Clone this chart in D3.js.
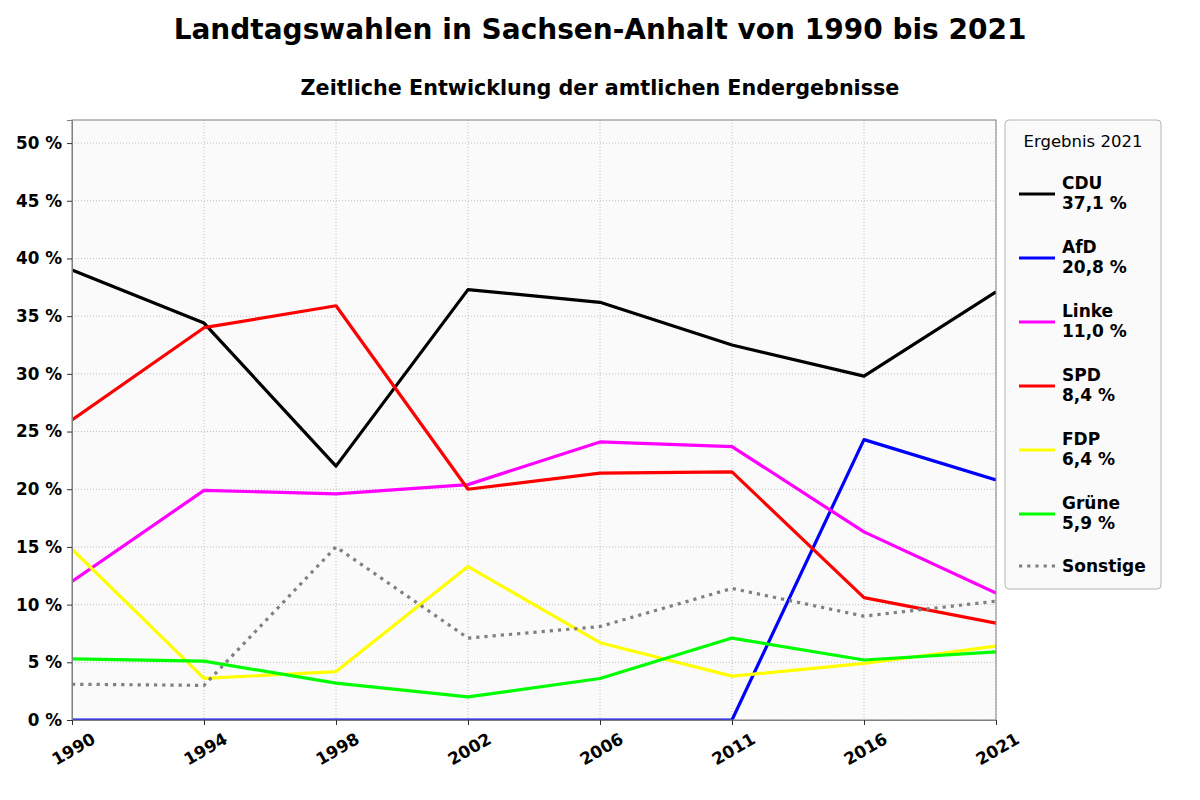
<!DOCTYPE html>
<html>
<head>
<meta charset="utf-8">
<script src="https://cdn.jsdelivr.net/npm/d3@7"></script>
<style>
  body { margin: 0; background: #fff; font-family: "DejaVu Sans", sans-serif; }
  svg text { font-family: "DejaVu Sans", sans-serif; }
</style>
</head>
<body>
<div id="chart"></div>
<script>
// ---------- Data ----------
const years = ["1990", "1994", "1998", "2002", "2006", "2011", "2016", "2021"];
const parties = ["CDU", "AfD", "Linke", "SPD", "FDP", "Grüne", "Sonstige"];
const cdu      = [39.0, 34.4, 22.0, 37.3, 36.2, 32.5, 29.8, 37.1];
const afd      = [0, 0, 0, 0, 0, 0, 24.3, 20.8];
const linke    = [12.0, 19.9, 19.6, 20.4, 24.1, 23.7, 16.3, 11.0];
const spd      = [26.0, 34.0, 35.9, 20.0, 21.4, 21.5, 10.6, 8.4];
const fdp      = [14.8, 3.6, 4.2, 13.3, 6.7, 3.8, 4.9, 6.4];
const gruene   = [5.3, 5.1, 3.2, 2.0, 3.6, 7.1, 5.2, 5.9];
const sonstige = [3.1, 3.0, 15.0, 7.1, 8.1, 11.4, 9.0, 10.3];
const yTicks = [0, 5, 10, 15, 20, 25, 30, 35, 40, 45, 50];

const seriesValues = [cdu, afd, linke, spd, fdp, gruene, sonstige];
const colors = ["#000000", "#0000ff", "#ff00ff", "#ff0000", "#ffff00", "#00ff00", "#808080"];

// ---------- Dimensions ----------
const W = 1200, H = 800;
const margin = { top: 120, left: 72, right: 204, bottom: 80 };
const width = W - margin.left - margin.right;
const height = H - margin.top - margin.bottom;

const svg = d3.select("#chart").append("svg")
    .attr("width", W).attr("height", H);

// ---------- Titles ----------
svg.append("text")
    .attr("x", 600).attr("y", 39)
    .attr("text-anchor", "middle")
    .style("font-size", "28px").style("font-weight", "bold")
    .text("Landtagswahlen in Sachsen-Anhalt von 1990 bis 2021");

svg.append("text")
    .attr("x", 600).attr("y", 95)
    .attr("text-anchor", "middle")
    .style("font-size", "20.7px").style("font-weight", "bold")
    .text("Zeitliche Entwicklung der amtlichen Endergebnisse");

const g = svg.append("g").attr("transform", `translate(${margin.left},${margin.top})`);

// ---------- Scales ----------
const x = d3.scalePoint().domain(years).range([0, width]);
const y = d3.scaleLinear().domain([0, 52]).range([height, 0]);

// background
g.append("rect").attr("width", width).attr("height", height).attr("fill", "#fafafa");

// ---------- Grid ----------
g.append("g").selectAll("line").data(yTicks).join("line")
    .attr("x1", 0).attr("x2", width)
    .attr("y1", d => y(d)).attr("y2", d => y(d))
    .attr("stroke", "#b0b0b0").attr("stroke-width", 0.8).attr("stroke-dasharray", "1,2");
g.append("g").selectAll("line").data(years).join("line")
    .attr("x1", d => x(d)).attr("x2", d => x(d))
    .attr("y1", 0).attr("y2", height)
    .attr("stroke", "#b0b0b0").attr("stroke-width", 0.8).attr("stroke-dasharray", "1,2");

// ---------- Lines ----------
svg.append("defs").append("clipPath").attr("id", "clip")
    .append("rect").attr("width", width).attr("height", height);

const line = d3.line().x((d, i) => x(years[i])).y(d => y(d));

const lines = g.append("g").attr("clip-path", "url(#clip)");
parties.forEach((p, k) => {
    lines.append("path")
        .datum(seriesValues[k])
        .attr("d", line)
        .attr("fill", "none")
        .attr("stroke", colors[k])
        .attr("stroke-width", 3.2)
        .attr("stroke-linejoin", "round")
        .attr("stroke-dasharray", p === "Sonstige" ? "3.2,5" : null);
});

// ---------- Frame ----------
g.append("rect").attr("width", width).attr("height", height)
    .attr("fill", "none").attr("stroke", "#808080").attr("stroke-width", 1);

// ---------- Axes ----------
const yAxis = g.append("g")
    .call(d3.axisLeft(y).tickValues(yTicks).tickFormat(d => d + " %").tickSize(5).tickPadding(5));
const xAxis = g.append("g").attr("transform", `translate(0,${height})`)
    .call(d3.axisBottom(x).tickSize(5).tickPadding(4));

[yAxis, xAxis].forEach(a => {
    a.attr("font-size", 17).attr("font-family", "'DejaVu Sans', sans-serif");
    a.select(".domain").attr("stroke", "#808080");
    a.selectAll(".tick line").attr("stroke", "#333");
    a.selectAll("text").style("font-size", "16.8px").style("font-weight", "bold").attr("fill", "#000");
});
xAxis.selectAll("text")
    .attr("text-anchor", "middle")
    .attr("y", 0).attr("dy", "0.35em")
    .attr("transform", "translate(1,29) rotate(-30)");

// ---------- Legend ----------
const leg = svg.append("g").attr("transform", "translate(1005,120)");
leg.append("rect").attr("width", 156).attr("height", 469).attr("rx", 4)
    .attr("fill", "#fafafa").attr("stroke", "#b5b5b5").attr("stroke-width", 1);
leg.append("text").attr("x", 78).attr("y", 27).attr("text-anchor", "middle")
    .style("font-size", "16.5px").text("Ergebnis 2021");

parties.forEach((p, k) => {
    const cy = 74 + k * 64 - (k === 6 ? 12 : 0);
    const item = leg.append("g").attr("transform", `translate(0,${cy})`);
    item.append("line").attr("x1", 14).attr("x2", 50).attr("y1", 0).attr("y2", 0)
        .attr("stroke", colors[k]).attr("stroke-width", 3.2)
        .attr("stroke-dasharray", p === "Sonstige" ? "3.2,5" : null);
    const t = item.append("text").attr("x", 57)
        .style("font-size", "17px").style("font-weight", "bold");
    if (p === "Sonstige") {
        t.attr("y", 6).text(p);
    } else {
        const v = seriesValues[k][seriesValues[k].length - 1];
        t.append("tspan").attr("x", 57).attr("y", -5).text(p);
        t.append("tspan").attr("x", 57).attr("y", 15).text(v.toFixed(1).replace(".", ",") + " %");
    }
});
</script>
</body>
</html>
